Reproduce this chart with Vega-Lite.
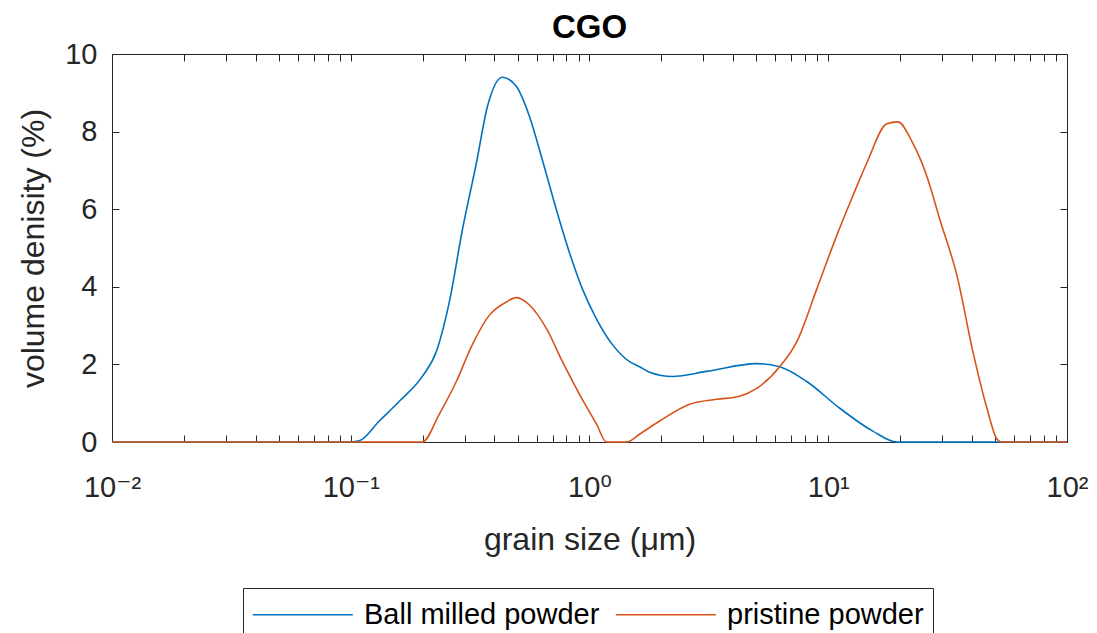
{
  "$schema": "https://vega.github.io/schema/vega-lite/v6.json",
  "autosize": "none",
  "width": 955,
  "height": 388,
  "padding": {"left": 112, "top": 54, "right": 30, "bottom": 191},
  "background": "white",
  "title": {"text": "CGO", "fontSize": 33, "fontWeight": "bold", "font": "Liberation Sans", "color": "#000000", "offset": -5},
  "config": {
    "view": {"stroke": null},
    "axis": {
      "grid": false,
      "domainColor": "#262626",
      "tickColor": "#262626",
      "labelColor": "#262626",
      "titleColor": "#262626",
      "labelFont": "Liberation Sans, DejaVu Sans",
      "titleFont": "Liberation Sans, DejaVu Sans",
      "labelFontSize": 29,
      "titleFontSize": 32,
      "titleFontWeight": "normal",
      "tickSize": -7,
      "labelOverlap": false,
      "labelFlush": false,
      "labelBound": false
    }
  },
  "data": {"values": [
    {"s": 0.01, "v": 0, "g": "Ball milled powder"},
    {"s": 0.1, "v": 0, "g": "Ball milled powder"},
    {"s": 0.1085, "v": 0.03, "g": "Ball milled powder"},
    {"s": 0.1317, "v": 0.54, "g": "Ball milled powder"},
    {"s": 0.1598, "v": 1.05, "g": "Ball milled powder"},
    {"s": 0.1994, "v": 1.69, "g": "Ball milled powder"},
    {"s": 0.2283, "v": 2.33, "g": "Ball milled powder"},
    {"s": 0.2588, "v": 3.61, "g": "Ball milled powder"},
    {"s": 0.2935, "v": 5.47, "g": "Ball milled powder"},
    {"s": 0.3359, "v": 7.19, "g": "Ball milled powder"},
    {"s": 0.3735, "v": 8.64, "g": "Ball milled powder"},
    {"s": 0.4316, "v": 9.4, "g": "Ball milled powder"},
    {"s": 0.4943, "v": 9.16, "g": "Ball milled powder"},
    {"s": 0.5604, "v": 8.39, "g": "Ball milled powder"},
    {"s": 0.6352, "v": 7.26, "g": "Ball milled powder"},
    {"s": 0.7271, "v": 5.98, "g": "Ball milled powder"},
    {"s": 0.8244, "v": 4.88, "g": "Ball milled powder"},
    {"s": 0.9345, "v": 3.94, "g": "Ball milled powder"},
    {"s": 1.07, "v": 3.17, "g": "Ball milled powder"},
    {"s": 1.248, "v": 2.51, "g": "Ball milled powder"},
    {"s": 1.472, "v": 2.07, "g": "Ball milled powder"},
    {"s": 1.62, "v": 1.94, "g": "Ball milled powder"},
    {"s": 1.785, "v": 1.8, "g": "Ball milled powder"},
    {"s": 2.228, "v": 1.69, "g": "Ball milled powder"},
    {"s": 3.094, "v": 1.82, "g": "Ball milled powder"},
    {"s": 5.015, "v": 2.02, "g": "Ball milled powder"},
    {"s": 6.26, "v": 1.94, "g": "Ball milled powder"},
    {"s": 8.125, "v": 1.56, "g": "Ball milled powder"},
    {"s": 11.17, "v": 0.87, "g": "Ball milled powder"},
    {"s": 15.37, "v": 0.28, "g": "Ball milled powder"},
    {"s": 19.38, "v": 0, "g": "Ball milled powder"},
    {"s": 100, "v": 0, "g": "Ball milled powder"},
    {"s": 0.01, "v": 0, "g": "pristine powder"},
    {"s": 0.1994, "v": 0, "g": "pristine powder"},
    {"s": 0.235, "v": 0.72, "g": "pristine powder"},
    {"s": 0.2768, "v": 1.56, "g": "pristine powder"},
    {"s": 0.3231, "v": 2.51, "g": "pristine powder"},
    {"s": 0.3807, "v": 3.27, "g": "pristine powder"},
    {"s": 0.4487, "v": 3.61, "g": "pristine powder"},
    {"s": 0.4943, "v": 3.72, "g": "pristine powder"},
    {"s": 0.5604, "v": 3.53, "g": "pristine powder"},
    {"s": 0.6602, "v": 2.92, "g": "pristine powder"},
    {"s": 0.7705, "v": 2.07, "g": "pristine powder"},
    {"s": 0.9081, "v": 1.23, "g": "pristine powder"},
    {"s": 1.07, "v": 0.46, "g": "pristine powder"},
    {"s": 1.178, "v": 0, "g": "pristine powder"},
    {"s": 1.429, "v": 0, "g": "pristine powder"},
    {"s": 1.62, "v": 0.2, "g": "pristine powder"},
    {"s": 1.966, "v": 0.54, "g": "pristine powder"},
    {"s": 2.627, "v": 0.97, "g": "pristine powder"},
    {"s": 3.408, "v": 1.1, "g": "pristine powder"},
    {"s": 4.256, "v": 1.18, "g": "pristine powder"},
    {"s": 5.015, "v": 1.38, "g": "pristine powder"},
    {"s": 6.26, "v": 1.94, "g": "pristine powder"},
    {"s": 7.378, "v": 2.58, "g": "pristine powder"},
    {"s": 8.951, "v": 3.94, "g": "pristine powder"},
    {"s": 10.85, "v": 5.32, "g": "pristine powder"},
    {"s": 12.67, "v": 6.34, "g": "pristine powder"},
    {"s": 14.5, "v": 7.19, "g": "pristine powder"},
    {"s": 17.59, "v": 8.2, "g": "pristine powder"},
    {"s": 19.56, "v": 8.25, "g": "pristine powder"},
    {"s": 22.61, "v": 7.7, "g": "pristine powder"},
    {"s": 25.88, "v": 6.85, "g": "pristine powder"},
    {"s": 29.35, "v": 5.73, "g": "pristine powder"},
    {"s": 34.57, "v": 4.3, "g": "pristine powder"},
    {"s": 40.35, "v": 2.33, "g": "pristine powder"},
    {"s": 46.2, "v": 0.87, "g": "pristine powder"},
    {"s": 50.87, "v": 0.08, "g": "pristine powder"},
    {"s": 53.4, "v": 0, "g": "pristine powder"},
    {"s": 100, "v": 0, "g": "pristine powder"}
  ]},
  "layer": [
    {
      "mark": {"type": "line", "strokeWidth": 1.6, "interpolate": "monotone"},
      "encoding": {
        "x": {"field": "s", "type": "quantitative",
          "scale": {"type": "log", "domain": [0.01, 100]},
          "axis": {"orient": "bottom", "title": "grain size (μm)", "titlePadding": 22, "labelPadding": 38,
            "values": [0.01,0.02,0.03,0.04,0.05,0.06,0.07,0.08,0.09,0.1,0.2,0.3,0.4,0.5,0.6,0.7,0.8,0.9,1,2,3,4,5,6,7,8,9,10,20,30,40,50,60,70,80,90,100],
            "labelExpr": "datum.value==0.01?'10⁻²':datum.value==0.1?'10⁻¹':datum.value==1?'10⁰':datum.value==10?'10¹':datum.value==100?'10²':''"}},
        "y": {"field": "v", "type": "quantitative",
          "scale": {"domain": [0, 10]},
          "axis": {"orient": "left", "title": "volume denisity (%)", "values": [0,2,4,6,8,10], "labelPadding": 22, "titlePadding": 14}},
        "color": {"field": "g", "type": "nominal",
          "scale": {"domain": ["Ball milled powder", "pristine powder"], "range": ["#0072BD", "#D95319"]},
          "legend": {"title": null, "orient": "none", "legendX": 131, "legendY": 534, "direction": "horizontal",
            "symbolType": "M-1,0H5", "symbolSize": 1111, "symbolStrokeWidth": 1.6,
            "labelFontSize": 29, "labelFont": "Liberation Sans", "labelColor": "#000000", "labelOffset": 77, "labelLimit": 500,
            "columnPadding": 12, "padding": 9, "strokeColor": "#262626", "fillColor": "white"}}
      }
    },
    {
      "mark": {"type": "point", "opacity": 0},
      "encoding": {
        "x": {"field": "s", "type": "quantitative",
          "axis": {"orient": "top", "title": null, "labels": false,
            "values": [0.01,0.02,0.03,0.04,0.05,0.06,0.07,0.08,0.09,0.1,0.2,0.3,0.4,0.5,0.6,0.7,0.8,0.9,1,2,3,4,5,6,7,8,9,10,20,30,40,50,60,70,80,90,100]}},
        "y": {"field": "v", "type": "quantitative",
          "axis": {"orient": "right", "title": null, "labels": false, "values": [0,2,4,6,8,10]}}
      }
    }
  ],
  "resolve": {"axis": {"x": "independent", "y": "independent"}}
}
